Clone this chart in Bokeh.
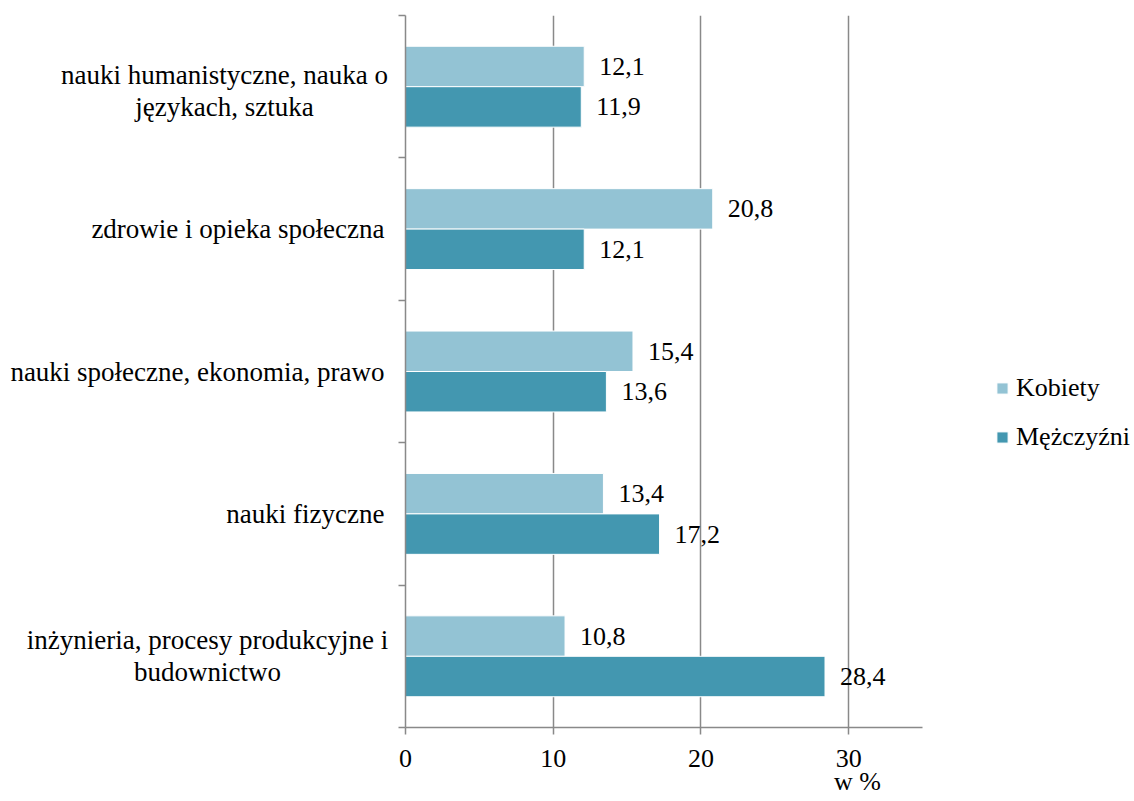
from bokeh.plotting import figure
from bokeh.layouts import row
from bokeh.models import (Range1d, Legend, LegendItem, FixedTicker,
                          ColumnDataSource, LinearAxis)
from bokeh.core.properties import value
from bokeh.embed import file_html
from bokeh.resources import INLINE

categories = ["nauki humanistyczne, nauka o\njęzykach, sztuka",
              "zdrowie i opieka społeczna",
              "nauki społeczne, ekonomia, prawo",
              "nauki fizyczne",
              "inżynieria, procesy produkcyjne i\nbudownictwo"]
kobiety = [12.1, 20.8, 15.4, 13.4, 10.8]
mezczyzni = [11.9, 12.1, 13.6, 17.2, 28.4]
series_names = ["Kobiety", "Mężczyźni"]
x_ticks = [0, 10, 20, 30]
x_title = "w %"

FONT = "Liberation Serif"
LIGHT = "#93C3D4"
DARK = "#4397B0"
GRAY = "#898989"

n = len(categories)
centers = [n - i - 0.5 for i in range(n)]
off, bh = 0.142, 0.284

LBL_W = 390
TOP, BOTTOM = 15, 74
y_range = Range1d(0, n)

# ---------- main chart ----------
main_w = 1134 - LBL_W
px_per_unit = (922 - 405) / 35.0
x_end = (main_w - 15) / px_per_unit

p = figure(width=main_w, height=801, output_backend="svg", toolbar_location=None,
           x_range=Range1d(0, x_end), y_range=y_range,
           min_border_left=15, min_border_right=0, min_border_top=TOP,
           min_border_bottom=BOTTOM)
p.outline_line_color = None
p.background_fill_color = "white"

src_k = ColumnDataSource(dict(y=[c + off for c in centers], v=kobiety,
                              t=[f"{v:.1f}".replace(".", ",") for v in kobiety]))
src_m = ColumnDataSource(dict(y=[c - off for c in centers], v=mezczyzni,
                              t=[f"{v:.1f}".replace(".", ",") for v in mezczyzni]))

rk = p.hbar(y="y", right="v", left=0, height=bh, source=src_k,
            fill_color=LIGHT, line_color="white", line_width=1)
rm = p.hbar(y="y", right="v", left=0, height=bh, source=src_m,
            fill_color=DARK, line_color="white", line_width=1)

for src in (src_k, src_m):
    p.text(x="v", y="y", text="t", source=src, x_offset=15,
           text_align="left", text_baseline="middle",
           text_font=value(FONT), text_font_size="26px", text_color="black")

# x axis
p.xaxis.ticker = FixedTicker(ticks=x_ticks)
p.xaxis.bounds = (0, 35)
p.xaxis.axis_line_color = GRAY
p.xaxis.axis_line_width = 1.5
p.xaxis.major_tick_line_color = GRAY
p.xaxis.major_tick_line_width = 1.5
p.xaxis.major_tick_in = 0
p.xaxis.major_tick_out = 7
p.xaxis.minor_tick_line_color = None
p.xaxis.major_label_text_font = FONT
p.xaxis.major_label_text_font_size = "26px"
p.xaxis.major_label_text_color = "black"
p.xaxis.major_label_standoff = 15

# second bottom axis carrying the unit title
title_axis = LinearAxis(ticker=FixedTicker(ticks=[30.6]),
                        major_label_overrides={30.6: x_title},
                        axis_line_color=None, major_tick_line_color=None,
                        minor_tick_line_color=None, major_label_standoff=-3,
                        major_tick_out=0, major_tick_in=0,
                        major_label_text_font=FONT,
                        major_label_text_font_size="26px",
                        major_label_text_color="black")
p.add_layout(title_axis, "below")

# y axis: only boundary ticks (as minor ticks), no labels
p.yaxis.ticker = FixedTicker(ticks=[], minor_ticks=list(range(n + 1)))
p.yaxis.major_label_standoff = 0
p.yaxis.axis_line_color = GRAY
p.yaxis.axis_line_width = 1.5
p.yaxis.major_tick_line_color = None
p.yaxis.major_tick_in = 0
p.yaxis.major_tick_out = 0
p.yaxis.minor_tick_line_color = GRAY
p.yaxis.minor_tick_line_width = 1.5
p.yaxis.minor_tick_in = 0
p.yaxis.minor_tick_out = 7

p.xgrid.ticker = FixedTicker(ticks=x_ticks[1:])
p.xgrid.grid_line_color = GRAY
p.xgrid.grid_line_width = 1.5
p.ygrid.grid_line_color = None

legend = Legend(items=[LegendItem(label=series_names[0], renderers=[rk]),
                       LegendItem(label=series_names[1], renderers=[rm])],
                location=(590, 275), orientation="vertical",
                glyph_width=14, glyph_height=14, label_standoff=7,
                spacing=19, padding=0, margin=0,
                border_line_alpha=0, background_fill_alpha=0,
                label_text_font=FONT, label_text_font_size="26px",
                label_text_color="black")
p.add_layout(legend)

# ---------- category labels panel ----------
lf = figure(width=LBL_W, height=801, output_backend="svg", toolbar_location=None,
            x_range=Range1d(0, LBL_W), y_range=y_range,
            x_axis_location=None, y_axis_location=None,
            min_border_left=0, min_border_right=0, min_border_top=TOP,
            min_border_bottom=BOTTOM)
lf.outline_line_color = None
lf.xgrid.visible = False
lf.ygrid.visible = False

multi = [lab for lab in categories if "\n" in lab]
single = [lab for lab in categories if "\n" not in lab]
multi_y = [c for lab, c in zip(categories, centers) if "\n" in lab]
single_y = [c for lab, c in zip(categories, centers) if "\n" not in lab]
# multi-line labels: centred block ending near the axis
multi_x = [224, 207]

lf.text(x=[384] * len(single), y=single_y, text=single,
        text_align="right", text_baseline="middle",
        text_font=value(FONT), text_font_size="27px", text_color="black")
lf.text(x=multi_x, y=multi_y, text=multi, y_offset=[4, 0],
        text_align="center", text_baseline="middle", text_line_height=1.07,
        text_font=value(FONT), text_font_size="27px", text_color="black")

layout = row(lf, p, spacing=0)
open("out.html", "w").write(file_html(layout, INLINE))
